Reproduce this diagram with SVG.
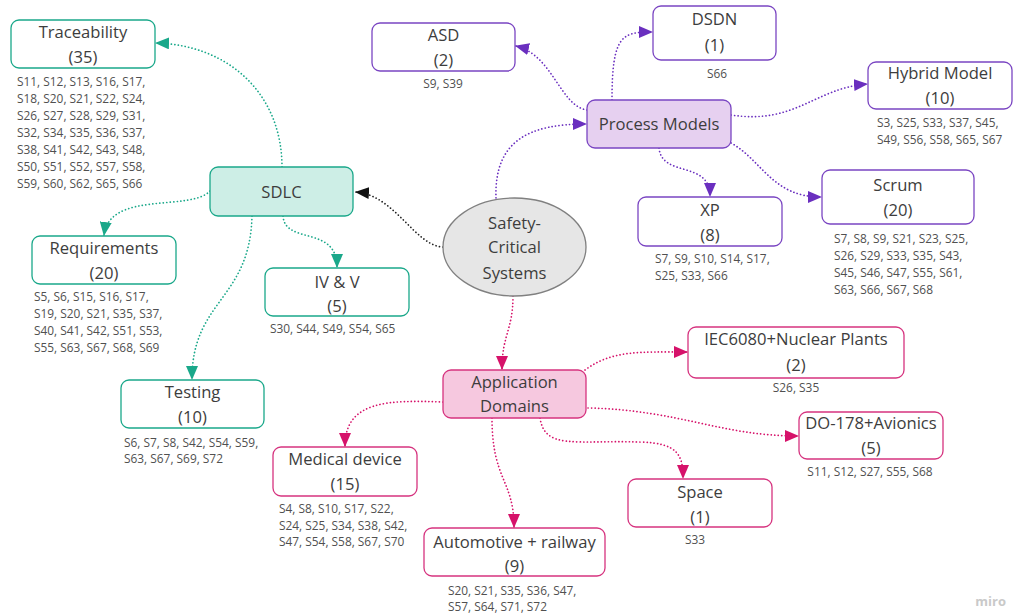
<svg xmlns="http://www.w3.org/2000/svg" width="1024" height="614" viewBox="0 0 1024 614">
  <style>
    .t { font-family: "Open Sans", "Liberation Sans", sans-serif; font-size: 16.6px; fill: #3d3d3d; text-anchor: middle; }
    .l { font-family: "Open Sans", "Liberation Sans", sans-serif; font-size: 11.9px; fill: #505050; }
    .lc { text-anchor: middle; }
    .teal { fill: #ffffff; stroke: #1aa88a; stroke-width: 1.3; }
    .tealF { fill: #cdeee6; stroke: #1aa88a; stroke-width: 1.3; }
    .purp { fill: #ffffff; stroke: #7a45c2; stroke-width: 1.3; }
    .purpF { fill: #e6d0f0; stroke: #7a45c2; stroke-width: 1.3; }
    .pink { fill: #ffffff; stroke: #d6337f; stroke-width: 1.3; }
    .pinkF { fill: #f6c8df; stroke: #d6337f; stroke-width: 1.3; }
    .e { fill: none; stroke-width: 1.7; stroke-dasharray: 0.1 3.4; stroke-linecap: round; }
    .et { stroke: #1aa88a; marker-end: url(#aTeal); }
    .ep { stroke: #6a2fbf; marker-end: url(#aPurp); }
    .em { stroke: #d6126a; marker-end: url(#aPink); }
    .ek { stroke: #222222; marker-end: url(#aBlack); }
  </style>
  <defs>
    <marker id="aTeal" markerUnits="userSpaceOnUse" markerWidth="15" markerHeight="12" refX="13" refY="6" orient="auto"><path d="M0,0 L14,6 L0,12 Z" fill="#1aa88a"/></marker>
    <marker id="aPurp" markerUnits="userSpaceOnUse" markerWidth="15" markerHeight="12" refX="13" refY="6" orient="auto"><path d="M0,0 L14,6 L0,12 Z" fill="#6a2fbf"/></marker>
    <marker id="aPink" markerUnits="userSpaceOnUse" markerWidth="15" markerHeight="12" refX="13" refY="6" orient="auto"><path d="M0,0 L14,6 L0,12 Z" fill="#d6126a"/></marker>
    <marker id="aBlack" markerUnits="userSpaceOnUse" markerWidth="15" markerHeight="12" refX="13" refY="6" orient="auto"><path d="M0,0 L14,6 L0,12 Z" fill="#111111"/></marker>
  </defs>
  <rect width="1024" height="614" fill="#ffffff"/>

  <g id="connectors">
    <path class="e ek" d="M443 247 C415 246 395 195 356 192"/>
    <path class="e ep" d="M496 198 C494 140 530 124 586 124"/>
    <path class="e em" d="M513 296 C513 330 502 335 502 369"/>
    <path class="e et" d="M282 167 C282 95 230 45 156 43"/>
    <path class="e et" d="M210 191 C190 212 110 190 104 235"/>
    <path class="e et" d="M283 216 C285 245 337 225 337 267"/>
    <path class="e et" d="M252 216 C250 300 192 300 192 379"/>
    <path class="e ep" d="M587 110 C560 106 553 55 516 46"/>
    <path class="e ep" d="M612 100 C612 35 622 32 652 32"/>
    <path class="e ep" d="M731 115 C795 125 815 88 867 84"/>
    <path class="e ep" d="M659 148 C662 178 710 160 710 196"/>
    <path class="e ep" d="M731 143 C762 160 772 197 821 197"/>
    <path class="e em" d="M585 370 C612 350 640 352 687 352"/>
    <path class="e em" d="M588 408 C680 410 720 436 798 436"/>
    <path class="e em" d="M540 418 C545 450 575 440 640 442 C678 443 683 455 683 478"/>
    <path class="e em" d="M492 418 C492 480 514 480 514 527"/>
    <path class="e em" d="M443 402 C390 400 345 400 345 446"/>
  </g>

  <g id="center">
    <ellipse cx="514.5" cy="247" rx="71.5" ry="49" fill="#e6e6e6" stroke="#808080" stroke-width="1.3"/>
    <text class="t" x="514.5" y="229">Safety-</text>
    <text class="t" x="514.5" y="253">Critical</text>
    <text class="t" x="514.5" y="279">Systems</text>
  </g>

  <g id="sdlc">
    <rect class="tealF" x="210" y="167" width="143" height="49" rx="8"/>
    <text class="t" x="281.5" y="198">SDLC</text>
  </g>

  <g id="traceability">
    <rect class="teal" x="11" y="20" width="144" height="48" rx="8"/>
    <text class="t" x="83" y="38">Traceability</text>
    <text class="t" x="83" y="63">(35)</text>
    <text class="l" x="17" y="86">S11, S12, S13, S16, S17,</text>
    <text class="l" x="17" y="103">S18, S20, S21, S22, S24,</text>
    <text class="l" x="17" y="120">S26, S27, S28, S29, S31,</text>
    <text class="l" x="17" y="137">S32, S34, S35, S36, S37,</text>
    <text class="l" x="17" y="154">S38, S41, S42, S43, S48,</text>
    <text class="l" x="17" y="171">S50, S51, S52, S57, S58,</text>
    <text class="l" x="17" y="188">S59, S60, S62, S65, S66</text>
  </g>

  <g id="requirements">
    <rect class="teal" x="32" y="236" width="144" height="48" rx="8"/>
    <text class="t" x="104" y="254">Requirements</text>
    <text class="t" x="104" y="279">(20)</text>
    <text class="l" x="34" y="301">S5, S6, S15, S16, S17,</text>
    <text class="l" x="34" y="318">S19, S20, S21, S35, S37,</text>
    <text class="l" x="34" y="335">S40, S41, S42, S51, S53,</text>
    <text class="l" x="34" y="352">S55, S63, S67, S68, S69</text>
  </g>

  <g id="ivv">
    <rect class="teal" x="265" y="268" width="144" height="48" rx="8"/>
    <text class="t" x="337" y="288">IV &amp; V</text>
    <text class="t" x="337" y="312">(5)</text>
    <text class="l" x="270" y="333">S30, S44, S49, S54, S65</text>
  </g>

  <g id="testing">
    <rect class="teal" x="121" y="380" width="143" height="48" rx="8"/>
    <text class="t" x="192.5" y="398">Testing</text>
    <text class="t" x="192.5" y="423">(10)</text>
    <text class="l" x="124" y="447">S6, S7, S8, S42, S54, S59,</text>
    <text class="l" x="124" y="463">S63, S67, S69, S72</text>
  </g>

  <g id="process-models">
    <rect class="purpF" x="587" y="100" width="144" height="48" rx="8"/>
    <text class="t" x="659" y="130">Process Models</text>
  </g>

  <g id="asd">
    <rect class="purp" x="372" y="23" width="143" height="48" rx="8"/>
    <text class="t" x="443.5" y="41">ASD</text>
    <text class="t" x="443.5" y="66">(2)</text>
    <text class="l lc" x="443" y="88">S9, S39</text>
  </g>

  <g id="dsdn">
    <rect class="purp" x="653" y="6" width="123" height="54" rx="8"/>
    <text class="t" x="714.5" y="25">DSDN</text>
    <text class="t" x="714.5" y="51">(1)</text>
    <text class="l lc" x="717" y="78">S66</text>
  </g>

  <g id="hybrid-model">
    <rect class="purp" x="868" y="62" width="144" height="47" rx="8"/>
    <text class="t" x="940" y="79">Hybrid Model</text>
    <text class="t" x="940" y="104">(10)</text>
    <text class="l" x="877" y="127">S3, S25, S33, S37, S45,</text>
    <text class="l" x="877" y="144">S49, S56, S58, S65, S67</text>
  </g>

  <g id="xp">
    <rect class="purp" x="638" y="197" width="144" height="49" rx="8"/>
    <text class="t" x="710" y="216">XP</text>
    <text class="t" x="710" y="241">(8)</text>
    <text class="l" x="655" y="263">S7, S9, S10, S14, S17,</text>
    <text class="l" x="655" y="280">S25, S33, S66</text>
  </g>

  <g id="scrum">
    <rect class="purp" x="822" y="170" width="152" height="54" rx="8"/>
    <text class="t" x="898" y="191">Scrum</text>
    <text class="t" x="898" y="216">(20)</text>
    <text class="l" x="834" y="243">S7, S8, S9, S21, S23, S25,</text>
    <text class="l" x="834" y="260">S26, S29, S33, S35, S43,</text>
    <text class="l" x="834" y="277">S45, S46, S47, S55, S61,</text>
    <text class="l" x="834" y="294">S63, S66, S67, S68</text>
  </g>

  <g id="application-domains">
    <rect class="pinkF" x="443" y="370" width="143" height="48" rx="8"/>
    <text class="t" x="514.5" y="388">Application</text>
    <text class="t" x="514.5" y="412">Domains</text>
  </g>

  <g id="iec6080">
    <rect class="pink" x="688" y="327" width="216" height="51" rx="8"/>
    <text class="t" x="796" y="345">IEC6080+Nuclear Plants</text>
    <text class="t" x="796" y="371">(2)</text>
    <text class="l lc" x="796" y="392">S26, S35</text>
  </g>

  <g id="do178">
    <rect class="pink" x="799" y="412" width="144" height="47" rx="8"/>
    <text class="t" x="871" y="429">DO-178+Avionics</text>
    <text class="t" x="871" y="454">(5)</text>
    <text class="l lc" x="870" y="476">S11, S12, S27, S55, S68</text>
  </g>

  <g id="space">
    <rect class="pink" x="628" y="479" width="144" height="48" rx="8"/>
    <text class="t" x="700" y="498">Space</text>
    <text class="t" x="700" y="523">(1)</text>
    <text class="l lc" x="695" y="544">S33</text>
  </g>

  <g id="automotive">
    <rect class="pink" x="424" y="528" width="181" height="48" rx="8"/>
    <text class="t" x="514.5" y="548">Automotive + railway</text>
    <text class="t" x="514.5" y="572">(9)</text>
    <text class="l" x="448" y="595">S20, S21, S35, S36, S47,</text>
    <text class="l" x="448" y="611">S57, S64, S71, S72</text>
  </g>

  <g id="medical">
    <rect class="pink" x="273" y="447" width="144" height="49" rx="8"/>
    <text class="t" x="345" y="465">Medical device</text>
    <text class="t" x="345" y="490">(15)</text>
    <text class="l" x="279" y="513">S4, S8, S10, S17, S22,</text>
    <text class="l" x="279" y="530">S24, S25, S34, S38, S42,</text>
    <text class="l" x="279" y="546">S47, S54, S58, S67, S70</text>
  </g>

  <text x="1006" y="606" font-family="'Open Sans', 'Liberation Sans', sans-serif" font-size="13" font-weight="bold" fill="#c9c9c9" text-anchor="end">miro</text>
</svg>
